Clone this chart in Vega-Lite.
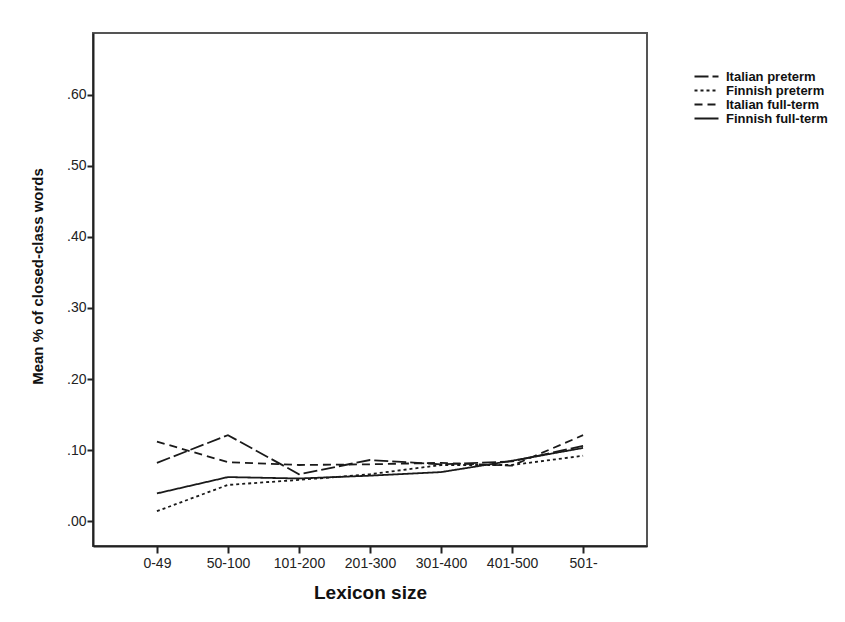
{
  "$schema": "https://vega.github.io/schema/vega-lite/v6.json",
  "width": 554,
  "height": 513,
  "autosize": {"type": "none"},
  "padding": {"left": 93, "top": 33, "right": 198, "bottom": 76},
  "background": "white",
  "config": {
    "font": "Liberation Sans",
    "view": {"stroke": "#555", "strokeWidth": 2}
  },
  "data": {
    "values": [
      {"group": "Italian preterm", "lexicon": "0-49", "value": 0.082},
      {"group": "Italian preterm", "lexicon": "50-100", "value": 0.121},
      {"group": "Italian preterm", "lexicon": "101-200", "value": 0.066},
      {"group": "Italian preterm", "lexicon": "201-300", "value": 0.086},
      {"group": "Italian preterm", "lexicon": "301-400", "value": 0.080},
      {"group": "Italian preterm", "lexicon": "401-500", "value": 0.084},
      {"group": "Italian preterm", "lexicon": "501-", "value": 0.106},
      {"group": "Finnish preterm", "lexicon": "0-49", "value": 0.014},
      {"group": "Finnish preterm", "lexicon": "50-100", "value": 0.051},
      {"group": "Finnish preterm", "lexicon": "101-200", "value": 0.058},
      {"group": "Finnish preterm", "lexicon": "201-300", "value": 0.066},
      {"group": "Finnish preterm", "lexicon": "301-400", "value": 0.079},
      {"group": "Finnish preterm", "lexicon": "401-500", "value": 0.079},
      {"group": "Finnish preterm", "lexicon": "501-", "value": 0.092},
      {"group": "Italian full-term", "lexicon": "0-49", "value": 0.112},
      {"group": "Italian full-term", "lexicon": "50-100", "value": 0.083},
      {"group": "Italian full-term", "lexicon": "101-200", "value": 0.079},
      {"group": "Italian full-term", "lexicon": "201-300", "value": 0.080},
      {"group": "Italian full-term", "lexicon": "301-400", "value": 0.082},
      {"group": "Italian full-term", "lexicon": "401-500", "value": 0.078},
      {"group": "Italian full-term", "lexicon": "501-", "value": 0.121},
      {"group": "Finnish full-term", "lexicon": "0-49", "value": 0.039},
      {"group": "Finnish full-term", "lexicon": "50-100", "value": 0.062},
      {"group": "Finnish full-term", "lexicon": "101-200", "value": 0.060},
      {"group": "Finnish full-term", "lexicon": "201-300", "value": 0.064},
      {"group": "Finnish full-term", "lexicon": "301-400", "value": 0.069},
      {"group": "Finnish full-term", "lexicon": "401-500", "value": 0.085},
      {"group": "Finnish full-term", "lexicon": "501-", "value": 0.103}
    ]
  },
  "mark": {"type": "line", "color": "#1a1a1a", "strokeWidth": 1.8},
  "encoding": {
    "x": {
      "field": "lexicon",
      "type": "ordinal",
      "sort": ["0-49", "50-100", "101-200", "201-300", "301-400", "401-500", "501-"],
      "scale": {"type": "point", "padding": 0.9},
      "axis": {
        "title": "Lexicon size",
        "titleFont": "Liberation Sans",
        "titleFontSize": 19,
        "titleFontWeight": "bold",
        "titleColor": "#111",
        "titleBaseline": "middle",
        "titleX": 277,
        "titleY": 46,
        "labelAngle": 0,
        "labelFontSize": 14,
        "labelColor": "#222",
        "labelPadding": 3,
        "tickSize": 7,
        "tickWidth": 2,
        "tickColor": "#222",
        "domainColor": "#222",
        "domainWidth": 2,
        "grid": false
      }
    },
    "y": {
      "field": "value",
      "type": "quantitative",
      "scale": {"domain": [-0.035, 0.687], "nice": false, "zero": false},
      "axis": {
        "title": "Mean % of closed-class words",
        "titleFont": "Liberation Sans",
        "titleFontSize": 15,
        "titleFontWeight": "bold",
        "titleColor": "#111",
        "titleAngle": -90,
        "titleBaseline": "middle",
        "titleAlign": "center",
        "titleX": -56,
        "titleY": 243,
        "values": [0, 0.1, 0.2, 0.3, 0.4, 0.5, 0.6],
        "labelExpr": "replace(format(datum.value, '.2f'), '0.', '.')",
        "labelFontSize": 14,
        "labelColor": "#222",
        "labelPadding": 1,
        "tickSize": 6,
        "tickWidth": 2,
        "tickColor": "#222",
        "domainColor": "#222",
        "domainWidth": 2,
        "grid": false
      }
    },
    "strokeDash": {
      "field": "group",
      "type": "nominal",
      "scale": {
        "domain": ["Italian preterm", "Finnish preterm", "Italian full-term", "Finnish full-term"],
        "range": [[14, 4], [3, 3], [8, 5], [1, 0]]
      },
      "legend": {
        "title": null,
        "orient": "none",
        "legendX": 607,
        "legendY": 37,
        "symbolType": "M-3,0H3",
        "symbolSize": 64,
        "symbolStrokeWidth": 2,
        "symbolStrokeColor": "#1a1a1a",
        "symbolFillColor": "transparent",
        "labelFontSize": 13,
        "labelFontWeight": "bold",
        "labelColor": "#111",
        "labelOffset": 13,
        "rowPadding": 0
      }
    }
  }
}
